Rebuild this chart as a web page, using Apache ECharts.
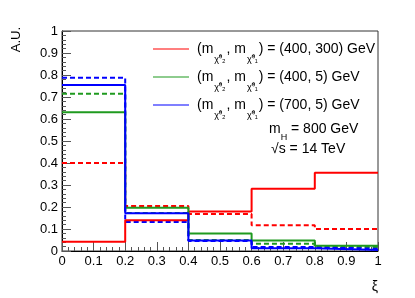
<!DOCTYPE html>
<html>
<head>
<meta charset="utf-8">
<script src="https://cdn.jsdelivr.net/npm/echarts@6/dist/echarts.min.js"></script>
<style>
html,body{margin:0;padding:0;background:#fff;}
#c{width:415px;height:298px;}
</style>
</head>
<body>
<div id="c"></div>
<script>
// Bin edges of the xi histogram
const binEdges = [0, 0.2, 0.4, 0.6, 0.8, 1.0];
// Normalised bin contents (A.U.)
const redSolid    = [0.042, 0.140, 0.179, 0.283, 0.356];
const redDashed   = [0.400, 0.205, 0.168, 0.117, 0.100];
const greenSolid  = [0.631, 0.197, 0.080, 0.048, 0.024];
const greenDashed = [0.715, 0.173, 0.050, 0.033, 0.018];
const blueSolid   = [0.754, 0.172, 0.048, 0.013, 0.004];
const blueDashed  = [0.788, 0.132, 0.045, 0.018, 0.010];
// Tick labels
const yTickLabels = ['0','0.1','0.2','0.3','0.4','0.5','0.6','0.7','0.8','0.9','1'];
const xTickLabels = ['0','0.1','0.2','0.3','0.4','0.5','0.6','0.7','0.8','0.9','1'];
// Legend labels
const legendValues = ['(400, 300) GeV', '(400, 5) GeV', '(700, 5) GeV'];

const FONT = '"Liberation Sans", Arial, Helvetica, sans-serif';
const RED = '#ff0000', GREEN = '#1f9a1f', BLUE = '#0000ff';

function histPoints(vals) {
  const pts = vals.map((v, i) => [binEdges[i], v]);
  pts.push([binEdges[binEdges.length - 1], vals[vals.length - 1]]);
  return pts;
}
function hist(vals, color, dashed) {
  return {
    type: 'line', step: 'end', data: histPoints(vals), symbol: 'none',
    lineStyle: { color: color, width: 2, type: dashed ? [5, 3] : 'solid' },
    silent: true, animation: false, z: dashed ? 3 : 4
  };
}

const chart = echarts.init(document.getElementById('c'), null, { renderer: 'canvas' });

function legendRow(y, color, val) {
  return [
    { type: 'line', shape: { x1: 153, y1: y, x2: 189, y2: y }, style: { stroke: color, lineWidth: 1.2 } },
    { type: 'text', x: 197, y: y - 7,
      style: {
        text: '{a|(m}{s|χ̃⁰₂}{a|, m}{s|χ̃⁰₁}{a|) = ' + val + '}',
        rich: {
          a: { fontFamily: FONT, fontSize: 14, lineHeight: 16, verticalAlign: 'top', fill: '#000' },
          s: { fontFamily: FONT, fontSize: 9, lineHeight: 22, verticalAlign: 'bottom', fill: '#000', padding: [0, 1, 0, 1] }
        }
      } }
  ];
}

const option = {
  animation: false,
  backgroundColor: '#fff',
  grid: { left: 62, right: 37, top: 31, bottom: 47, show: true, borderColor: '#333', borderWidth: 1, backgroundColor: 'transparent' },
  xAxis: {
    type: 'value', min: 0, max: 1, interval: 0.1,
    axisLine: { show: true, onZero: false, lineStyle: { color: '#000', width: 1 } },
    axisTick: { show: true, inside: true, length: 9, lineStyle: { color: '#555' } },
    minorTick: { show: true, splitNumber: 5, length: 4, lineStyle: { color: '#555' } },
    splitLine: { show: false },
    axisLabel: { margin: 4, fontFamily: FONT, fontSize: 13, color: '#000',
      formatter: (v) => xTickLabels[Math.round(v * 10)] }
  },
  yAxis: {
    type: 'value', min: 0, max: 1, interval: 0.1,
    axisLine: { show: true, onZero: false, lineStyle: { color: '#000', width: 1 } },
    axisTick: { show: true, inside: true, length: 9, lineStyle: { color: '#555' } },
    minorTick: { show: true, splitNumber: 5, length: 4, lineStyle: { color: '#555' } },
    splitLine: { show: false },
    axisLabel: { margin: 4, fontFamily: FONT, fontSize: 13, color: '#000',
      formatter: (v) => yTickLabels[Math.round(v * 10)] }
  },
  series: [
    hist(redDashed, RED, true),
    hist(greenDashed, GREEN, true),
    hist(blueDashed, BLUE, true),
    hist(redSolid, RED, false),
    hist(greenSolid, GREEN, false),
    hist(blueSolid, BLUE, false)
  ],
  graphic: [
    { type: 'text', x: 16, y: 27, rotation: Math.PI / 2,
      style: { text: 'A.U.', fontFamily: FONT, fontSize: 13, fill: '#000', align: 'right', verticalAlign: 'middle' } },
    { type: 'text', x: 375, y: 287,
      style: { text: 'ξ', fontFamily: FONT, fontSize: 14, fill: '#000', align: 'center', verticalAlign: 'middle' } },
    ...legendRow(49, RED, legendValues[0]),
    ...legendRow(77, GREEN, legendValues[1]),
    ...legendRow(105, BLUE, legendValues[2]),
    { type: 'text', x: 269, y: 122,
      style: { text: '{a|m}{s|H}{a| = 800 GeV}',
        rich: {
          a: { fontFamily: FONT, fontSize: 14, lineHeight: 16, verticalAlign: 'top', fill: '#000' },
          s: { fontFamily: FONT, fontSize: 9, lineHeight: 20, verticalAlign: 'bottom', fill: '#000' }
        } } },
    { type: 'text', x: 271, y: 142,
      style: { text: '√s = 14 TeV', fontFamily: FONT, fontSize: 14, fill: '#000' } }
  ]
};
chart.setOption(option);
</script>
</body>
</html>
